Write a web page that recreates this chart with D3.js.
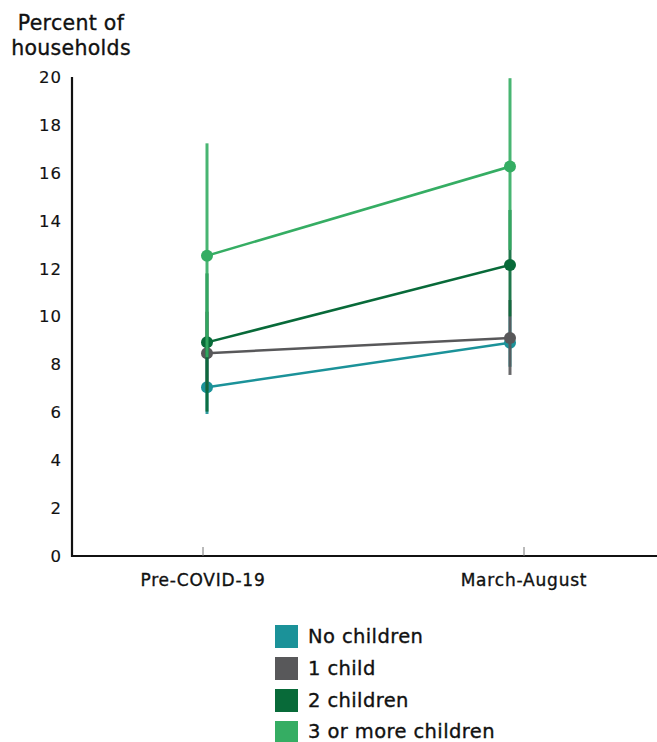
<!DOCTYPE html>
<html><head><meta charset="utf-8">
<script src="https://cdn.jsdelivr.net/npm/d3@7"></script>
<style>body{margin:0;background:#fff}svg{display:block}text{font-family:"DejaVu Sans",sans-serif;fill:#111;stroke:#111;stroke-width:0.35px}</style>
</head><body><svg id="c" width="657" height="742"></svg>
<script>
const categories = ["Pre-COVID-19", "March-August"];
const seriesNames = ["No children", "1 child", "2 children", "3 or more children"];
const seriesColors = ["#1b9299", "#58585a", "#086a39", "#35ad63"];
const values = [[7.05, 8.9], [8.47, 9.1], [8.92, 12.15], [12.54, 16.26]];
const lower = [[5.93, 7.9], [6.9, 7.56], [6.03, 10.0], [8.3, 12.78]];
const upper = [[8.4, 10.0], [10.2, 10.69], [11.8, 14.45], [17.23, 19.95]];
const yTicks = [0, 2, 4, 6, 8, 10, 12, 14, 16, 18, 20];

const svg = d3.select("#c");
const y = d3.scaleLinear().domain([0, 20]).range([556, 77]);
const xAxisScale = d3.scalePoint().domain(categories).range([203, 524]);
const xData = d3.scalePoint().domain(categories).range([207, 510]);

// title
const t = svg.append("text").attr("text-anchor", "middle").attr("font-size", 20.5).attr("letter-spacing", 0.3);
t.append("tspan").attr("x", 71).attr("y", 30).text("Percent of");
t.append("tspan").attr("x", 71).attr("y", 55).text("households");

// y tick labels
svg.selectAll(".yt").data(yTicks).join("text")
  .attr("x", 62).attr("y", d => y(d)).attr("dy", "0.36em")
  .attr("text-anchor", "end").attr("font-size", 16.5).attr("letter-spacing", 1)
  .style("stroke-width", "0.15px").text(d => d);

// axes lines
svg.append("line").attr("x1", 72).attr("x2", 72).attr("y1", y(20)).attr("y2", y(0) + 1)
  .attr("stroke", "#111").attr("stroke-width", 2.2);
svg.append("line").attr("x1", 71).attr("x2", 657).attr("y1", y(0)).attr("y2", y(0))
  .attr("stroke", "#111").attr("stroke-width", 2.2);

// x ticks
svg.selectAll(".xt").data(categories).join("line")
  .attr("x1", d => xAxisScale(d)).attr("x2", d => xAxisScale(d))
  .attr("y1", y(0) - 9).attr("y2", y(0)).attr("stroke", "#777").attr("stroke-width", 1);
svg.selectAll(".xl").data(categories).join("text")
  .attr("x", d => xAxisScale(d)).attr("y", 585.5).attr("text-anchor", "middle")
  .attr("font-size", 17).attr("letter-spacing", 0.8).text(d => d);

// series
seriesNames.forEach((name, i) => {
  const g = svg.append("g");
  categories.forEach((c, j) => {
    g.append("line").attr("x1", xData(c)).attr("x2", xData(c))
      .attr("y1", y(lower[i][j])).attr("y2", y(upper[i][j]))
      .attr("stroke", seriesColors[i]).attr("stroke-width", 3).attr("opacity", 0.9);
  });
  g.append("path").datum(values[i])
    .attr("d", d3.line().x((d, j) => xData(categories[j])).y(d => y(d)))
    .attr("fill", "none").attr("stroke", seriesColors[i]).attr("stroke-width", 2.5);
  g.selectAll("circle").data(values[i]).join("circle")
    .attr("cx", (d, j) => xData(categories[j])).attr("cy", d => y(d)).attr("r", 6)
    .attr("fill", seriesColors[i]);
});

// legend
const lg = svg.append("g");
seriesNames.forEach((name, i) => {
  lg.append("rect").attr("x", 275).attr("y", 625 + i * 32).attr("width", 23).attr("height", 23)
    .attr("fill", seriesColors[i]);
  lg.append("text").attr("x", 308).attr("y", 643 + i * 31.8)
    .attr("font-size", 19.5).attr("letter-spacing", 0.4).text(name);
});
</script></body></html>
